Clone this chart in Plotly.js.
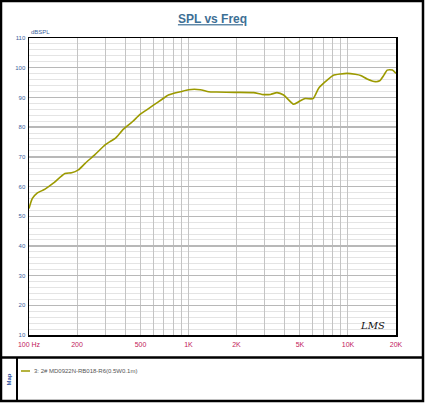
<!DOCTYPE html>
<html>
<head>
<meta charset="utf-8">
<script src="https://cdn.plot.ly/plotly-3.0.1.min.js"></script>
<style>
  html, body { margin: 0; padding: 0; background: #fff; }
  #spl-graph { width: 430px; height: 412px; }
</style>
</head>
<body>
<div id="spl-graph"></div>
<script>
// frequency response (Hz, dBSPL)
const freqHz = [100, 105, 112, 126, 142, 168, 185, 204, 225, 260, 300, 322, 347, 391, 445,
  497, 550, 603, 680, 748, 820, 887, 1000, 1184, 1337, 1500, 1963, 2560, 2890, 3260, 3590,
  3950, 4560, 5000, 5400, 6040, 6550, 7210, 8060, 9000, 9860, 11100, 12000, 13180, 14850,
  15800, 16800, 17600, 19000, 20000];
const splDb = [52.6, 56.0, 57.7, 59.1, 61.1, 64.4, 64.6, 65.6, 67.8, 70.8, 74.0, 75.1, 76.2,
  79.3, 81.8, 84.3, 85.9, 87.4, 89.3, 90.8, 91.5, 91.9, 92.6, 92.6, 91.9, 91.8, 91.7, 91.6,
  91.0, 91.0, 91.6, 90.8, 87.7, 88.8, 89.6, 89.6, 93.1, 95.3, 97.4, 97.9, 98.1, 97.8, 97.4,
  96.2, 95.3, 95.6, 97.5, 99.2, 99.2, 98.1];

const traceName = '3: 2# MD0922N-RB018-R6(0.5W0.1m)';

// x grid lines at every 1-2-3..9 step, labels only on some
const gridFreqs = [100, 200, 300, 400, 500, 600, 700, 800, 900, 1000, 2000, 3000, 4000,
  5000, 6000, 7000, 8000, 9000, 10000, 20000];
const freqLabels = ['100 Hz', '200', '', '', '500', '', '', '', '', '1K', '2K', '', '',
  '5K', '', '', '', '', '10K', '20K'];

// pixel -> paper helpers (plot area is 29..396 x 38..335)
const xp = px => (px - 29) / 367;
const yp = py => (335 - py) / 297;

const spl = {
  x: freqHz,
  y: splDb,
  mode: 'lines',
  type: 'scatter',
  name: traceName,
  line: {color: '#9c9a00', width: 1.6, shape: 'spline', smoothing: 0.6},
  hoverinfo: 'x+y',
};

const layout = {
  width: 430,
  height: 412,
  margin: {l: 29, r: 34, t: 38, b: 77},
  paper_bgcolor: '#fff',
  plot_bgcolor: '#fff',
  showlegend: false,
  font: {family: 'Liberation Sans, Arial, sans-serif', size: 7},
  title: {
    text: '<u><b>SPL vs Freq</b></u>',
    font: {size: 12, color: '#3d6f95', family: 'Liberation Sans, Arial, sans-serif'},
    x: xp(212.5), xref: 'paper', xanchor: 'center',
    y: 1 - 19 / 412, yref: 'container', yanchor: 'middle',
  },
  xaxis: {
    type: 'log',
    range: [2, Math.log10(20000)],
    tickmode: 'array',
    tickvals: gridFreqs,
    ticktext: freqLabels,
    tickfont: {color: '#c2185b', size: 7, family: 'Liberation Sans Narrow, Liberation Sans, sans-serif'},
    ticks: '',
    showgrid: true,
    gridcolor: '#c4c4c4',
    gridwidth: 1,
    showline: true,
    linecolor: '#000',
    linewidth: 1.5,
    mirror: true,
    zeroline: false,
    ticklabelstandoff: 2,
  },
  yaxis: {
    range: [10, 110],
    dtick: 10,
    tick0: 10,
    tickfont: {color: '#3c5f9c', size: 6, family: 'Liberation Sans Narrow, Liberation Sans, sans-serif'},
    ticks: '',
    showgrid: true,
    gridcolor: '#b8b8b8',
    gridwidth: 1.4,
    minor: {dtick: 2, showgrid: true, gridcolor: '#e4e4e4', gridwidth: 1},
    showline: true,
    linecolor: '#000',
    linewidth: 1.5,
    mirror: true,
    zeroline: false,
    ticklabelstandoff: 1,
  },
  shapes: [
    // outer frame
    {type: 'rect', xref: 'paper', yref: 'paper', x0: xp(1), x1: xp(423), y0: yp(401), y1: yp(1),
      line: {color: '#000', width: 2.5}},
    // divider between chart and map box
    {type: 'line', xref: 'paper', yref: 'paper', x0: xp(1), x1: xp(423), y0: yp(357.5), y1: yp(357.5),
      line: {color: '#000', width: 2.5}},
    {type: 'line', xref: 'paper', yref: 'paper', x0: xp(17), x1: xp(17), y0: yp(401), y1: yp(357.5),
      line: {color: '#000', width: 2}},
    // legend swatch
    {type: 'line', xref: 'paper', yref: 'paper', x0: xp(21), x1: xp(30), y0: yp(371), y1: yp(371),
      line: {color: '#9c9a00', width: 1.5}},
  ],
  annotations: [
    {text: 'dBSPL', xref: 'paper', yref: 'paper', x: xp(29), y: yp(32), xanchor: 'left', yanchor: 'middle',
      showarrow: false, font: {size: 6, color: '#3c5f9c', family: 'Liberation Sans Narrow, sans-serif'}},
    {text: traceName, xref: 'paper', yref: 'paper', x: xp(32), y: yp(371), xanchor: 'left', yanchor: 'middle',
      showarrow: false, font: {size: 6, color: '#555', family: 'Liberation Sans Narrow, sans-serif'}},
    {text: '<b>Map</b>', xref: 'paper', yref: 'paper', x: xp(8.5), y: yp(380), textangle: -90,
      xanchor: 'center', yanchor: 'middle', showarrow: false,
      font: {size: 6, color: '#2b4f9e', family: 'Liberation Sans, sans-serif'}},
    {text: '<i>LMS</i>', xref: 'paper', yref: 'paper', x: xp(372), y: yp(325), xanchor: 'center', yanchor: 'middle',
      showarrow: false, font: {size: 10, color: '#111', family: 'DejaVu Serif, serif'}},
  ],
};

Plotly.newPlot('spl-graph', [spl], layout, {displayModeBar: false, staticPlot: true});
</script>
</body>
</html>
